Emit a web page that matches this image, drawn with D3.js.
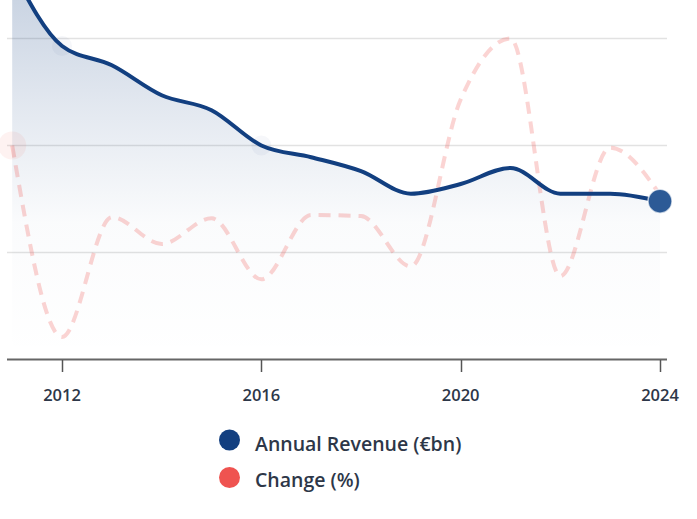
<!DOCTYPE html>
<html><head><meta charset="utf-8">
<script src="https://cdn.jsdelivr.net/npm/d3@7"></script>
<style>
html,body{margin:0;padding:0;background:#fff;overflow:hidden}
text{font-family:"Open Sans","Noto Sans",sans-serif}
</style></head>
<body><svg id="c" width="697" height="519"></svg>
<script>
const years = [2011,2012,2013,2014,2015,2016,2017,2018,2019,2020,2021,2022,2023,2024];
const revenue = [36.4,29.3,27.5,24.7,23.3,20.0,18.9,17.6,15.5,16.4,17.9,15.5,15.5,14.8];
const change = [0.0,-17.9,-6.7,-9.2,-6.8,-12.5,-6.5,-6.6,-11.3,4.3,10.0,-12.2,-0.2,-4.6];
const tickYears = [2012,2016,2020,2024];
const revTicks = [0,10,20,30];
const seriesNames = ["Annual Revenue (€bn)","Change (%)"];
const colors = ["#123f80","#ef5350"];

const svg = d3.select("#c");
const x = d3.scaleLinear().domain([2011,2024]).range([12.2,660]);
const yR = d3.scaleLinear().domain([0,30]).range([359.5,38.5]);
const yC = d3.scaleLinear().domain([-20,10]).range([359.5,38.5]);

const defs = svg.append("defs");
const g = defs.append("linearGradient").attr("id","ag")
  .attr("gradientUnits","userSpaceOnUse").attr("x1",0).attr("x2",0).attr("y1",-30).attr("y2",359);
g.append("stop").attr("offset",0).attr("stop-color",colors[0]).attr("stop-opacity",0.25);
g.append("stop").attr("offset",0.35).attr("stop-color",colors[0]).attr("stop-opacity",0.12);
g.append("stop").attr("offset",0.65).attr("stop-color",colors[0]).attr("stop-opacity",0.02);
g.append("stop").attr("offset",1).attr("stop-color",colors[0]).attr("stop-opacity",0);

// gridlines
svg.append("g").selectAll("line").data(revTicks.slice(1)).join("line")
  .attr("x1",7).attr("x2",667).attr("y1",d=>yR(d)).attr("y2",d=>yR(d))
  .attr("stroke","#e2e2e2").attr("stroke-width",1.5);

// area
const area = d3.area().x((d,i)=>x(years[i])).y0(yR(0)).y1(d=>yR(d)).curve(d3.curveMonotoneX);
svg.append("path").datum(revenue).attr("d",area).attr("fill","url(#ag)");

// change line
const lineC = d3.line().x((d,i)=>x(years[i])).y(d=>yC(d)).curve(d3.curveMonotoneX);
svg.append("path").datum(change).attr("d",lineC).attr("fill","none")
  .attr("stroke",colors[1]).attr("stroke-opacity",0.25).attr("stroke-width",4)
  .attr("stroke-dasharray","12,8");

// faint hover halos
svg.append("circle").attr("cx",x(2011)).attr("cy",yC(change[0])).attr("r",14)
  .attr("fill",colors[1]).attr("fill-opacity",0.08);
[1,5].forEach(i=>{
  svg.append("circle").attr("cx",x(years[i])).attr("cy",yR(revenue[i])).attr("r",10)
    .attr("fill",colors[0]).attr("fill-opacity",0.04);
});

// revenue line
const lineR = d3.line().x((d,i)=>x(years[i])).y(d=>yR(d)).curve(d3.curveMonotoneX);
svg.append("path").datum(revenue).attr("d",lineR).attr("fill","none")
  .attr("stroke",colors[0]).attr("stroke-width",4).attr("stroke-linecap","round");

// end marker
const li = years.length-1;
svg.append("circle").attr("cx",x(years[li])).attr("cy",yR(revenue[li])).attr("r",12)
  .attr("fill","#2c5a96").attr("stroke","#fff").attr("stroke-opacity",0.7).attr("stroke-width",1.5);

// x axis
svg.append("line").attr("x1",7).attr("x2",667).attr("y1",359.5).attr("y2",359.5)
  .attr("stroke","#666").attr("stroke-width",2);
const ax = svg.append("g");
ax.selectAll("line").data(tickYears).join("line")
  .attr("x1",d=>Math.round(x(d))+0.5).attr("x2",d=>Math.round(x(d))+0.5)
  .attr("y1",360).attr("y2",372).attr("stroke","#555").attr("stroke-width",1.5);
ax.selectAll("text").data(tickYears).join("text")
  .attr("x",d=>x(d)).attr("y",401).attr("text-anchor","middle")
  .attr("font-size",16.5).attr("font-weight",600).attr("fill","#2d3748").text(d=>d);

// legend
const lg = svg.append("g");
seriesNames.forEach((n,i)=>{
  lg.append("circle").attr("cx",229.5).attr("cy",440+i*37.5).attr("r",10.5).attr("fill",colors[i]);
  lg.append("text").attr("x",255).attr("y",450.5+i*36).attr("font-size",19.5).attr("font-weight",600)
    .attr("fill","#2d3748").text(n);
});
</script></body></html>
